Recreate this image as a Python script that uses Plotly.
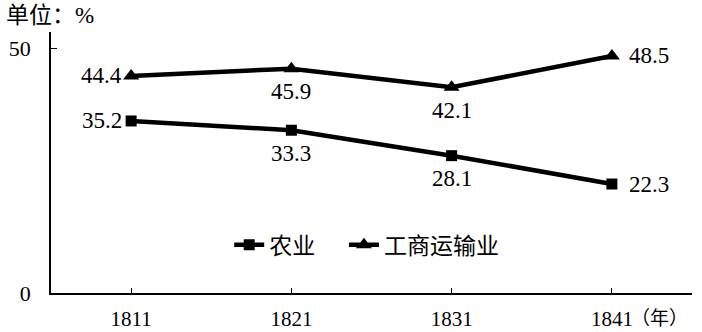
import plotly.graph_objects as go

years = ["1811", "1821", "1831", "1841"]
agriculture = [35.2, 33.3, 28.1, 22.3]
industry = [44.4, 45.9, 42.1, 48.5]
series_names = ["农业", "工商运输业"]
y_ticks = [0, 50]
unit_label = "单位：%"
year_suffix = "（年）"

SERIF = "'Times New Roman', 'Liberation Serif', serif"
MIXED = "'Times New Roman', 'Liberation Serif', 'Noto Sans CJK SC', serif"
CJK = "'Noto Sans CJK SC', sans-serif"

fig = go.Figure()
fig.add_trace(go.Scatter(
    x=years, y=agriculture, name=series_names[0], mode="lines+markers",
    line=dict(color="black", width=4.5),
    marker=dict(symbol="square", size=11, color="black"),
    legend="legend",
))
fig.add_trace(go.Scatter(
    x=years, y=industry, name=series_names[1], mode="lines+markers",
    line=dict(color="black", width=4.5),
    marker=dict(symbol="triangle-up", size=14, color="black"),
    legend="legend2",
))

# label placement per point index
placement = ["left", "below", "below", "right"]
annotations = []
for vals in (agriculture, industry):
    for i, v in enumerate(vals):
        p = placement[i]
        a = dict(x=i, y=v, text=f"{v}", showarrow=False, xref="x", yref="y",
                 font=dict(family=SERIF, size=23, color="black"))
        if p == "left":
            a.update(xanchor="right", yanchor="middle", xshift=-7)
        elif p == "right":
            a.update(xanchor="left", yanchor="middle", xshift=15)
        else:
            a.update(xanchor="center", yanchor="middle", yshift=-23)
        annotations.append(a)

annotations.append(dict(text=unit_label, x=0, y=1, xref="paper", yref="paper",
                        xanchor="left", yanchor="top", xshift=-47, yshift=31,
                        showarrow=False, font=dict(family=MIXED, size=23, color="black")))
annotations.append(dict(text=year_suffix, x=len(years) - 1, y=0, xref="x", yref="y",
                        xanchor="left", yanchor="middle", xshift=17, yshift=-23,
                        showarrow=False, font=dict(family=CJK, size=19, color="black")))

legend_style = dict(orientation="h", y=0.185, xanchor="left", yanchor="middle",
                    font=dict(family=CJK, size=23, color="black"),
                    bgcolor="rgba(0,0,0,0)")

fig.update_layout(
    width=702, height=332,
    margin=dict(l=51, r=10, t=32, b=39),
    paper_bgcolor="white", plot_bgcolor="white",
    showlegend=True,
    legend=dict(x=0.278, **legend_style),
    legend2=dict(x=0.457, **legend_style),
    annotations=annotations,
    xaxis=dict(type="category", range=[-0.5, 3.5], showline=True, linecolor="black",
               linewidth=1.5, ticks="inside", ticklen=5, tickcolor="black",
               showgrid=False, zeroline=False, ticklabelstandoff=6, automargin=False,
               tickfont=dict(family=SERIF, size=21, color="black")),
    yaxis=dict(range=[0, 53.4], tickvals=y_ticks, showline=True, linecolor="black",
               linewidth=1.5, ticks="inside", ticklen=6, tickcolor="black",
               showgrid=False, zeroline=False, ticklabelstandoff=14, automargin=False,
               tickfont=dict(family=SERIF, size=22, color="black")),
)

fig.write_html("out.html")
